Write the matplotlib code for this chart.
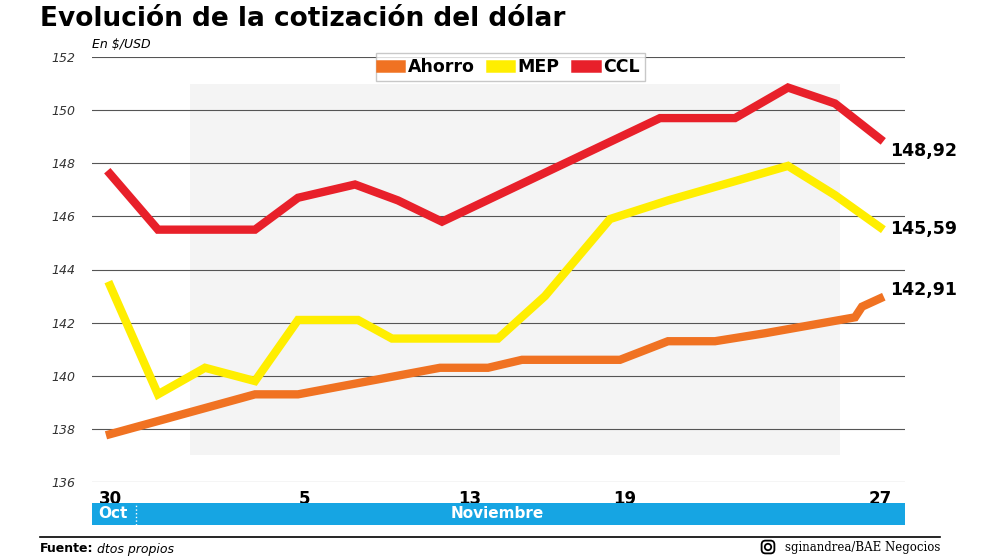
import matplotlib
matplotlib.use("Agg")
import matplotlib.pyplot as plt
from matplotlib.patches import Rectangle, FancyBboxPatch, Circle
import numpy as np

ccl_x = [0, 4.8, 14.5, 18.8, 24.5, 28.8, 33.2, 55.0, 62.5, 67.8, 72.5, 77.0]
ccl_y = [147.6, 145.5, 145.5, 146.7, 147.2, 146.6, 145.8, 149.7, 149.7, 150.85, 150.25, 148.92]
mep_x = [0, 4.8, 9.5, 14.5, 18.8, 24.8, 28.2, 38.8, 43.5, 50.0, 55.8, 67.8, 72.5, 77.0]
mep_y = [143.4, 139.3, 140.3, 139.8, 142.1, 142.1, 141.4, 141.4, 143.0, 145.9, 146.6, 147.9, 146.8, 145.59]
aho_x = [0, 14.5, 18.8, 33.0, 37.8, 41.2, 51.0, 55.8, 60.5, 65.5, 74.5, 75.2, 77.0]
aho_y = [137.8, 139.3, 139.3, 140.3, 140.3, 140.6, 140.6, 141.3, 141.3, 141.6, 142.2, 142.6, 142.91]
tick_pos = [0, 19.5, 36.0, 51.5, 77.0]
tick_lab = ["30", "5", "13", "19", "27"]
yticks = [136, 138, 140, 142, 144, 146, 148, 150, 152]

fig = plt.figure(figsize=(9.92, 5.58), dpi=100)
fig.patch.set_facecolor("white")
ax = fig.add_axes([92/992, 76/558, 813/992, 425/558])
ax.set_xlim(-1.8, 79.5)
ax.set_ylim(136, 152)
ax.set_facecolor("white")
ax.add_patch(Rectangle((8, 137), 65, 14, color="#eeeeee", alpha=0.6, zorder=0, lw=0))
for y in yticks:
    ax.axhline(y, color="#555555", lw=0.8, zorder=1)
for s in ax.spines.values():
    s.set_visible(False)
ax.set_yticks(yticks)
ax.set_yticklabels([str(v) for v in yticks], fontsize=9, style="italic", color="#333333")
ax.tick_params(axis="y", length=0, pad=12)
ax.set_xticks(tick_pos)
ax.set_xticklabels(tick_lab, fontsize=12, fontweight="bold")
ax.tick_params(axis="x", length=0, pad=6)

lw = 6
ax.plot(aho_x, aho_y, color="#f07222", lw=lw, solid_joinstyle="miter", zorder=3, label="Ahorro")
ax.plot(mep_x, mep_y, color="#ffee00", lw=lw, solid_joinstyle="miter", zorder=3, label="MEP")
ax.plot(ccl_x, ccl_y, color="#e8202a", lw=lw, solid_joinstyle="miter", zorder=3, label="CCL")
offs = [-0.45, -0.05, 0.3]
for yv, o in zip([ccl_y[-1], mep_y[-1], aho_y[-1]], offs):
    ax.text(78.0, yv + o, f"{yv:.2f}".replace(".", ","),
            fontsize=12.5, fontweight="bold", va="center", ha="left", clip_on=False)

leg = ax.legend(loc="upper center", bbox_to_anchor=(0.515, 1.03), ncol=3, frameon=True,
                handlelength=1.0, handleheight=0.9, columnspacing=1.0, handletextpad=0.5,
                borderpad=0.3, fancybox=False, prop={"weight": "bold", "size": 12.5})
for h in leg.legend_handles:
    h.set_linewidth(9)
leg.get_frame().set_edgecolor("#bbbbbb")

fig.text(40/992, 1 - 19/558, "Evolución de la cotización del dólar", fontsize=19, fontweight="bold", va="center")
fig.text(92/992, 1 - 45/558, "En $/USD", fontsize=9, style="italic", va="center")

band = fig.add_axes([92/992, 1 - 525/558, 813/992, 22/558])
band.set_xlim(0, 813); band.set_ylim(0, 1); band.axis("off")
band.add_patch(Rectangle((0, 0), 813, 1, color="#16a5e3", lw=0))
band.plot([44, 44], [0, 1], color="white", lw=1, ls=":")
band.text(6, 0.5, "Oct", color="white", fontsize=11, fontweight="bold", va="center")
band.text(405, 0.5, "Noviembre", color="white", fontsize=11, fontweight="bold", va="center", ha="center")

fig.add_artist(plt.Line2D([40/992, 940/992], [1 - 537/558] * 2, color="black", lw=1.2))
fig.text(40/992, 1 - 549/558, "Fuente:", fontsize=9, fontweight="bold", va="center")
fig.text(97/992, 1 - 549/558, "dtos propios", fontsize=9, style="italic", va="center")
fig.text(940/992, 1 - 547/558, "sginandrea/BAE Negocios", fontsize=8.5, family="DejaVu Serif", ha="right", va="center")
icon = fig.add_axes([760/992, 1 - 555/558, 16/992, 16/558])
icon.set_xlim(0, 1); icon.set_ylim(0, 1); icon.axis("off")
icon.add_patch(FancyBboxPatch((0.1, 0.1), 0.8, 0.8, boxstyle="round,pad=0,rounding_size=0.25",
                              fill=False, lw=1.3, ec="black"))
icon.add_patch(Circle((0.5, 0.5), 0.2, fill=False, lw=1.3, ec="black"))

fig.savefig("out.png", dpi=100)
